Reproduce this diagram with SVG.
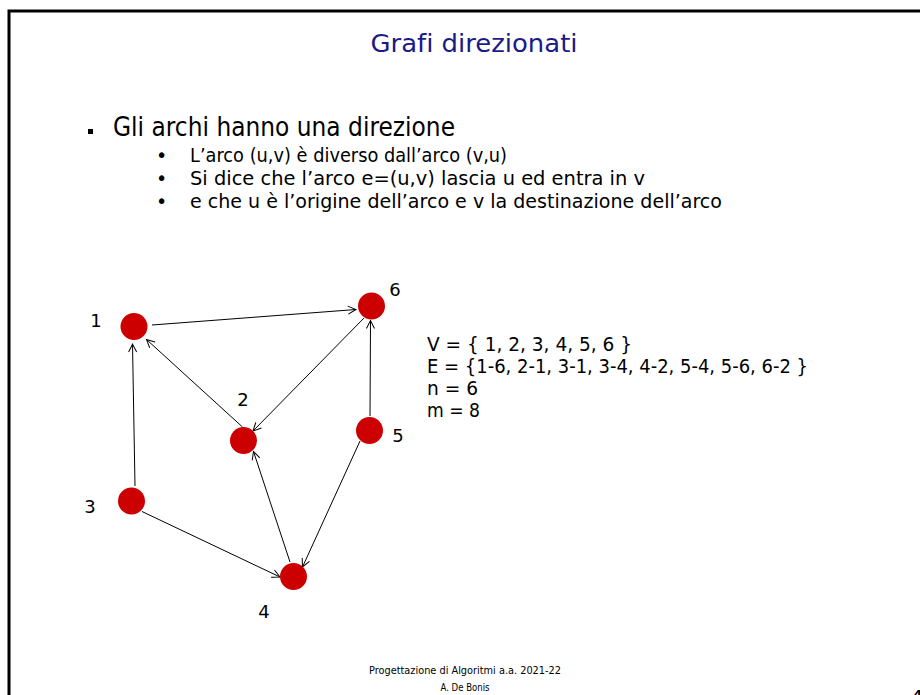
<svg xmlns="http://www.w3.org/2000/svg" width="920" height="695" viewBox="0 0 920 695">
<defs>
<style>
.t{font-family:"DejaVu Sans","Liberation Sans",sans-serif;fill:#000;font-variant-ligatures:none}
.node{fill:#cc0000}
.lbl{font-family:"DejaVu Sans","Liberation Sans",sans-serif;font-size:18px;fill:#000;text-anchor:middle}
.edge{stroke:#000;stroke-width:1;fill:none;marker-end:url(#arr)}
</style>
<marker id="arr" markerUnits="userSpaceOnUse" markerWidth="12" markerHeight="12" refX="9" refY="5" orient="auto">
<path d="M1,1 L9,5 L1,9" fill="none" stroke="#000" stroke-width="1"/>
</marker>
</defs>
<rect x="0" y="0" width="920" height="695" fill="#fff"/>
<rect x="9" y="11" width="930" height="700" fill="none" stroke="#000" stroke-width="3"/>

<text x="474" y="52" class="t" font-size="24" style="fill:#1a1a88" text-anchor="middle" textLength="207" lengthAdjust="spacingAndGlyphs">Grafi direzionati</text>

<rect x="88" y="129" width="5" height="5" fill="#000"/>
<text x="113" y="136" class="t" font-size="26" textLength="342" lengthAdjust="spacingAndGlyphs">Gli archi hanno una direzione</text>
<text x="156" y="162" class="t" font-size="19">•</text>
<text x="190" y="162" class="t" font-size="20" textLength="317" lengthAdjust="spacingAndGlyphs">L’arco (u,v) è diverso dall’arco (v,u)</text>
<text x="156" y="185" class="t" font-size="19">•</text>
<text x="190" y="185" class="t" font-size="20" textLength="455" lengthAdjust="spacingAndGlyphs">Si dice che l’arco e=(u,v) lascia u ed entra in v</text>
<text x="156" y="208" class="t" font-size="19">•</text>
<text x="190" y="208" class="t" font-size="20" textLength="532" lengthAdjust="spacingAndGlyphs">e che u è l’origine dell’arco e v la destinazione dell’arco</text>

<g id="connectors">
<line class="edge" x1="152" y1="325" x2="356" y2="309.5"/>
<line class="edge" x1="242.5" y1="427" x2="146.5" y2="339.5"/>
<line class="edge" x1="364" y1="318" x2="253" y2="431"/>
<line class="edge" x1="370" y1="416" x2="370.5" y2="320.5"/>
<line class="edge" x1="135" y1="486" x2="132.5" y2="344"/>
<line class="edge" x1="290" y1="562" x2="253.5" y2="451.5"/>
<line class="edge" x1="142" y1="511.5" x2="280" y2="577"/>
<line class="edge" x1="360" y1="441" x2="302.5" y2="567"/>
</g>

<g id="node1"><circle class="node" cx="134" cy="326.5" r="13.5"/><text class="lbl" x="96" y="327">1</text></g>
<g id="node2"><circle class="node" cx="243.5" cy="440.5" r="13.5"/><text class="lbl" x="243" y="406">2</text></g>
<g id="node3"><circle class="node" cx="131.5" cy="501" r="13.5"/><text class="lbl" x="90" y="513">3</text></g>
<g id="node4"><circle class="node" cx="293.5" cy="576.5" r="13.5"/><text class="lbl" x="264" y="618">4</text></g>
<g id="node5"><circle class="node" cx="369.5" cy="430.5" r="13.5"/><text class="lbl" x="398" y="442">5</text></g>
<g id="node6"><circle class="node" cx="371.5" cy="306" r="13.5"/><text class="lbl" x="395" y="296">6</text></g>

<text x="427" y="351" class="t" font-size="19" textLength="205" lengthAdjust="spacingAndGlyphs">V = { 1, 2, 3, 4, 5, 6 }</text>
<text x="427" y="373" class="t" font-size="19" textLength="381" lengthAdjust="spacingAndGlyphs">E = {1-6, 2-1, 3-1, 3-4, 4-2, 5-4, 5-6, 6-2 }</text>
<text x="427" y="395" class="t" font-size="19" textLength="51" lengthAdjust="spacingAndGlyphs">n = 6</text>
<text x="427" y="417" class="t" font-size="19" textLength="53" lengthAdjust="spacingAndGlyphs">m = 8</text>

<text x="465" y="674" class="t" font-size="10.5" text-anchor="middle" textLength="192" lengthAdjust="spacingAndGlyphs">Progettazione di Algoritmi  a.a. 2021-22</text>
<text x="465" y="691" class="t" font-size="10.5" text-anchor="middle" textLength="49" lengthAdjust="spacingAndGlyphs">A. De Bonis</text>
<text x="913" y="700" class="t" font-size="14" font-weight="bold">4</text>
</svg>
